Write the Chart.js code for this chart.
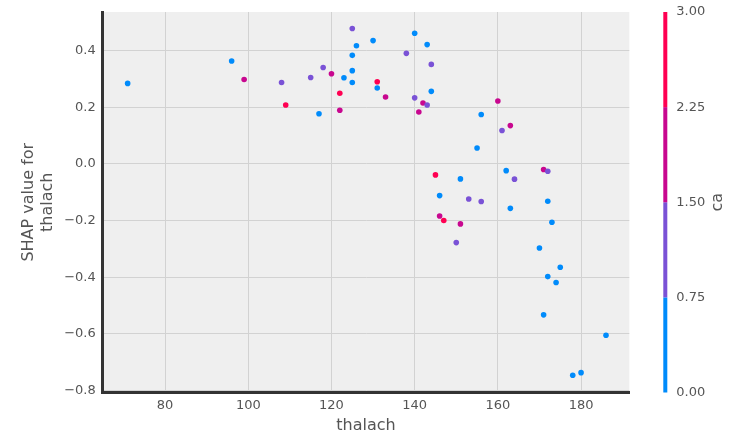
<!DOCTYPE html>
<html>
<head>
<meta charset="utf-8">
<script src="https://cdn.jsdelivr.net/npm/chart.js@4"></script>
<style>
  body { margin: 0; background: #fff; }
  #wrap { width: 730px; height: 437px; }
</style>
</head>
<body>
<div id="wrap"><canvas id="shapChart"></canvas></div>
<script>
// feature values (thalach), SHAP values and the interaction feature (ca)
const thalach = [71, 96, 99, 108, 109, 115, 117, 118, 120, 122, 122, 123, 125, 125, 125, 125, 126, 130, 131, 131,
    133, 138, 140, 140, 141, 142, 143, 143, 144, 144, 156, 155, 160, 161, 163, 145, 151, 162, 164, 171,
    172, 146, 153, 156, 163, 172, 146, 147, 151, 173, 150, 170, 175, 172, 174, 171, 186, 178, 180];
const shapValues = [0.284, 0.363, 0.298, 0.287, 0.208, 0.305, 0.177, 0.340, 0.318, 0.249, 0.189, 0.304, 0.478, 0.383,
    0.329, 0.287, 0.417, 0.435, 0.290, 0.268, 0.236, 0.390, 0.461, 0.233, 0.183, 0.215, 0.208, 0.421, 0.351,
    0.256, 0.174, 0.056, 0.222, 0.118, 0.135, -0.039, -0.053, -0.024, -0.054, -0.020, -0.026, -0.112, -0.124,
    -0.133, -0.157, -0.132, -0.184, -0.200, -0.212, -0.206, -0.278, -0.297, -0.365, -0.398, -0.419, -0.533,
    -0.605, -0.746, -0.737];
const caValues = [0, 0, 2, 1, 3, 1, 0, 1, 2, 3, 2, 0, 1, 0, 0, 0, 0, 0, 3, 0, 2, 1, 0, 1, 2, 2, 1, 0, 1, 0,
    0, 0, 2, 1, 2, 3, 0, 0, 1, 2, 1, 0, 1, 1, 0, 0, 2, 3, 2, 0, 1, 0, 0, 0, 0, 0, 0, 0, 0];
// colour bar bins for ca
const caBinEdges = [0, 0.75, 1.5, 2.25, 3];

const caColors = ['#008bfb', '#7a52d6', '#c8078f', '#ff0052'];
const textColor = '#555555';
const fontFamily = "'DejaVu Sans', sans-serif";

const points = thalach.map((t, i) => ({ x: t, y: shapValues[i] }));
const pointColors = caValues.map(c => caColors[c]);

const fmtMinus = s => s.replace('-', '\u2212');

// Plot background, colour bar and its label
const shapPlot = {
    id: 'shapPlot',
    beforeDraw(chart) {
        const { ctx, chartArea } = chart;
        ctx.save();
        ctx.fillStyle = '#efefef';
        ctx.fillRect(chartArea.left, chartArea.top, chartArea.right - chartArea.left, chartArea.bottom - chartArea.top);
        ctx.restore();
    },
    afterDraw(chart) {
        const { ctx, chartArea } = chart;
        const cb = chart.scales.yc;
        const x = chartArea.right + 34;
        ctx.save();
        for (let i = 0; i < caColors.length; i++) {
            const y0 = cb.getPixelForValue(caBinEdges[i]);
            const y1 = cb.getPixelForValue(caBinEdges[i + 1]);
            ctx.fillStyle = caColors[i];
            ctx.fillRect(x, y1, 4, y0 - y1);
        }
        ctx.translate(cb.right - 12, (cb.top + cb.bottom) / 2);
        ctx.rotate(-Math.PI / 2);
        ctx.fillStyle = textColor;
        ctx.font = '16px ' + fontFamily;
        ctx.textAlign = 'center';
        ctx.textBaseline = 'middle';
        ctx.fillText('ca', 0, 0);
        ctx.restore();
    }
};

new Chart(document.getElementById('shapChart'), {
    type: 'scatter',
    data: {
        datasets: [{
            label: 'thalach',
            data: points,
            pointBackgroundColor: pointColors,
            pointBorderWidth: 0,
            pointRadius: 2.8,
            pointHoverRadius: 2.8
        }]
    },
    options: {
        responsive: true,
        maintainAspectRatio: false,
        animation: false,
        layout: { padding: { top: 12, left: 0, right: 0, bottom: 0 } },
        plugins: {
            legend: { display: false },
            tooltip: { enabled: false }
        },
        scales: {
            x: {
                type: 'linear',
                min: 65,
                max: 191.6,
                afterFit: s => { s.height = 44.5; },
                border: { display: true, color: '#333333', width: 3 },
                grid: { color: '#d2d2d2', lineWidth: 1, drawTicks: true, tickLength: 5, tickColor: 'rgba(0,0,0,0)' },
                ticks: {
                    stepSize: 20,
                    includeBounds: false,
                    padding: 0,
                    color: textColor,
                    font: { family: fontFamily, size: 13 }
                },
                title: {
                    display: true,
                    text: 'thalach',
                    color: textColor,
                    font: { family: fontFamily, size: 16 },
                    padding: { top: 0, bottom: 2 }
                }
            },
            y: {
                type: 'linear',
                min: -0.807,
                max: 0.536,
                afterFit: s => { s.width = 102.7; },
                border: { display: true, color: '#333333', width: 3 },
                grid: { color: '#d2d2d2', lineWidth: 1, drawTicks: true, tickLength: 7, tickColor: 'rgba(0,0,0,0)' },
                ticks: {
                    stepSize: 0.2,
                    includeBounds: false,
                    padding: 0,
                    color: textColor,
                    font: { family: fontFamily, size: 13 },
                    callback: v => fmtMinus(v.toFixed(1))
                },
                title: {
                    display: true,
                    text: ['SHAP value for', 'thalach'],
                    color: textColor,
                    font: { family: fontFamily, size: 16, lineHeight: 1.15 },
                    padding: { top: 20, bottom: 0 }
                }
            },
            yc: {
                type: 'linear',
                position: 'right',
                min: 0,
                max: 3,
                afterFit: s => { s.width = 100.7; },
                border: { display: false },
                grid: { display: true, drawOnChartArea: false, drawTicks: true, tickLength: 47, tickColor: 'rgba(0,0,0,0)' },
                ticks: {
                    stepSize: 0.75,
                    padding: 0,
                    color: textColor,
                    font: { family: fontFamily, size: 13 },
                    callback: v => v.toFixed(2)
                }
            }
        }
    },
    plugins: [shapPlot]
});
</script>
</body>
</html>
